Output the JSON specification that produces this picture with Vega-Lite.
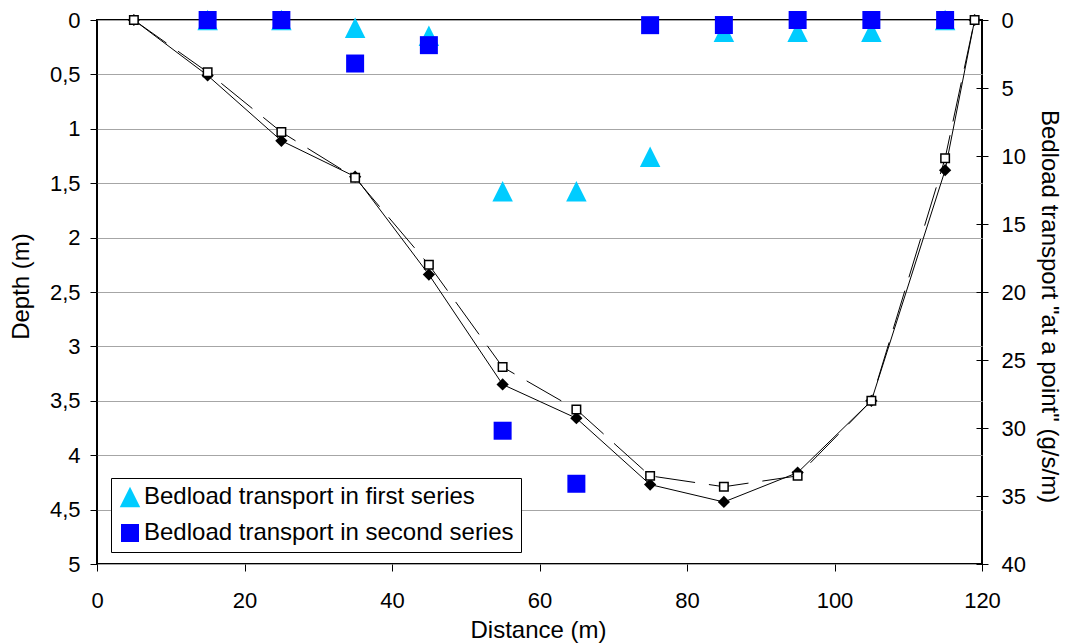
{
  "$schema": "https://vega.github.io/schema/vega-lite/v6.json",
  "width": 885,
  "height": 544,
  "autosize": {"type": "none"},
  "padding": {"left": 97, "top": 20, "right": 90, "bottom": 80},
  "background": "white",
  "config": {
    "font": "Liberation Sans",
    "view": {"stroke": "black", "strokeWidth": 2},
    "axis": {
      "domain": false,
      "labelFlush": false,
      "tickColor": "black",
      "tickWidth": 1,
      "tickSize": 7,
      "labelColor": "black",
      "labelFont": "Liberation Sans",
      "labelFontSize": 22,
      "titleColor": "black",
      "titleFont": "Liberation Sans",
      "titleFontSize": 24,
      "titleFontWeight": "normal",
      "gridColor": "#a6a6a6",
      "gridWidth": 1,
      "gridOpacity": 1
    },
    "legend": {
      "strokeWidth": 1
    }
  },
  "datasets": {
    "profile": [
      {"distance": 5, "survey": "A", "depth": 0},
      {"distance": 15, "survey": "A", "depth": 0.48},
      {"distance": 25, "survey": "A", "depth": 1.03},
      {"distance": 35, "survey": "A", "depth": 1.45},
      {"distance": 45, "survey": "A", "depth": 2.25},
      {"distance": 55, "survey": "A", "depth": 3.19},
      {"distance": 65, "survey": "A", "depth": 3.58},
      {"distance": 75, "survey": "A", "depth": 4.19},
      {"distance": 85, "survey": "A", "depth": 4.29},
      {"distance": 95, "survey": "A", "depth": 4.19},
      {"distance": 105, "survey": "A", "depth": 3.5},
      {"distance": 115, "survey": "A", "depth": 1.27},
      {"distance": 119, "survey": "A", "depth": 0},
      {"distance": 5, "survey": "B", "depth": 0},
      {"distance": 15, "survey": "B", "depth": 0.51},
      {"distance": 25, "survey": "B", "depth": 1.11},
      {"distance": 35, "survey": "B", "depth": 1.44},
      {"distance": 45, "survey": "B", "depth": 2.34},
      {"distance": 55, "survey": "B", "depth": 3.35},
      {"distance": 65, "survey": "B", "depth": 3.66},
      {"distance": 75, "survey": "B", "depth": 4.27},
      {"distance": 85, "survey": "B", "depth": 4.43},
      {"distance": 95, "survey": "B", "depth": 4.16},
      {"distance": 105, "survey": "B", "depth": 3.5},
      {"distance": 115, "survey": "B", "depth": 1.38},
      {"distance": 119, "survey": "B", "depth": 0}
    ],
    "bedload": [
      {"distance": 15, "series": "Bedload transport in first series", "bedload": 0},
      {"distance": 25, "series": "Bedload transport in first series", "bedload": 0},
      {"distance": 35, "series": "Bedload transport in first series", "bedload": 0.57},
      {"distance": 45, "series": "Bedload transport in first series", "bedload": 1.15},
      {"distance": 55, "series": "Bedload transport in first series", "bedload": 12.6},
      {"distance": 65, "series": "Bedload transport in first series", "bedload": 12.6},
      {"distance": 75, "series": "Bedload transport in first series", "bedload": 10.05},
      {"distance": 85, "series": "Bedload transport in first series", "bedload": 0.86},
      {"distance": 95, "series": "Bedload transport in first series", "bedload": 0.86},
      {"distance": 105, "series": "Bedload transport in first series", "bedload": 0.86},
      {"distance": 115, "series": "Bedload transport in first series", "bedload": 0},
      {"distance": 15, "series": "Bedload transport in second series", "bedload": 0},
      {"distance": 25, "series": "Bedload transport in second series", "bedload": 0},
      {"distance": 35, "series": "Bedload transport in second series", "bedload": 3.2},
      {"distance": 45, "series": "Bedload transport in second series", "bedload": 1.85},
      {"distance": 55, "series": "Bedload transport in second series", "bedload": 30.2},
      {"distance": 65, "series": "Bedload transport in second series", "bedload": 34.1},
      {"distance": 75, "series": "Bedload transport in second series", "bedload": 0.38},
      {"distance": 85, "series": "Bedload transport in second series", "bedload": 0.37},
      {"distance": 95, "series": "Bedload transport in second series", "bedload": 0},
      {"distance": 105, "series": "Bedload transport in second series", "bedload": 0},
      {"distance": 115, "series": "Bedload transport in second series", "bedload": 0}
    ]
  },
  "layer": [
    {
      "data": {"name": "profile"},
      "encoding": {
        "x": {
          "field": "distance",
          "type": "quantitative",
          "scale": {"domain": [0, 120], "nice": false, "zero": false},
          "axis": {
            "orient": "bottom",
            "values": [0, 20, 40, 60, 80, 100, 120],
            "grid": false,
            "labelPadding": 19,
            "title": "Distance (m)",
            "titleX": 441,
            "titleY": 66,
            "titleAlign": "center",
            "titleBaseline": "middle"
          }
        },
        "y": {
          "field": "depth",
          "type": "quantitative",
          "scale": {"domain": [0, 5], "reverse": true, "nice": false},
          "axis": {
            "orient": "left",
            "values": [0, 0.5, 1, 1.5, 2, 2.5, 3, 3.5, 4, 4.5, 5],
            "format": "~g",
            "labelExpr": "replace(datum.label, '.', ',')",
            "grid": true,
            "labelPadding": 10,
            "title": "Depth (m)",
            "titleAngle": -90,
            "titleX": -76,
            "titleY": 266,
            "titleAlign": "center",
            "titleBaseline": "middle"
          }
        }
      },
      "layer": [
        {
          "transform": [{"filter": "datum.survey === 'B'"}],
          "mark": {"type": "line", "stroke": "black", "strokeWidth": 1}
        },
        {
          "transform": [{"filter": "datum.survey === 'A'"}],
          "mark": {"type": "line", "stroke": "black", "strokeWidth": 1, "strokeDash": [40, 14]}
        },
        {
          "transform": [{"filter": "datum.survey === 'B'"}],
          "mark": {"type": "point", "shape": "diamond", "filled": true, "fill": "black", "stroke": null, "size": 150, "opacity": 1}
        },
        {
          "transform": [{"filter": "datum.survey === 'A'"}],
          "mark": {"type": "point", "shape": "square", "filled": true, "fill": "white", "stroke": "black", "strokeWidth": 1.5, "size": 72, "opacity": 1}
        }
      ]
    },
    {
      "data": {"name": "bedload"},
      "mark": {"type": "point", "filled": true, "opacity": 1, "strokeWidth": 0},
      "encoding": {
        "x": {"field": "distance", "type": "quantitative"},
        "y": {
          "field": "bedload",
          "type": "quantitative",
          "scale": {"domain": [0, 40], "reverse": true, "nice": false},
          "axis": {
            "orient": "right",
            "values": [0, 5, 10, 15, 20, 25, 30, 35, 40],
            "grid": false,
            "offset": -6,
            "tickSize": 12,
            "labelPadding": 13,
            "title": "Bedload transport \"at a point\" (g/s/m)",
            "titleAngle": 90,
            "titleX": 72,
            "titleY": 286,
            "titleAlign": "center",
            "titleBaseline": "middle"
          }
        },
        "color": {
          "field": "series",
          "type": "nominal",
          "scale": {
            "domain": ["Bedload transport in first series", "Bedload transport in second series"],
            "range": ["#00ccff", "#0000ff"]
          },
          "legend": {
            "title": null,
            "orient": "none",
            "legendX": 14,
            "legendY": 458,
            "padding": 7,
            "rowPadding": 12,
            "strokeColor": "black",
            "fillColor": "white",
            "labelFontSize": 24,
            "labelColor": "black",
            "labelLimit": 600,
            "labelOffset": 2,
            "symbolSize": 180,
            "symbolStrokeWidth": 0,
            "symbolOpacity": 1
          }
        },
        "shape": {
          "field": "series",
          "type": "nominal",
          "scale": {
            "domain": ["Bedload transport in first series", "Bedload transport in second series"],
            "range": ["M0,-1L1,1L-1,1Z", "square"]
          },
          "legend": {
            "title": null,
            "orient": "none",
            "legendX": 14,
            "legendY": 458,
            "padding": 7,
            "rowPadding": 12,
            "strokeColor": "black",
            "fillColor": "white",
            "labelFontSize": 24,
            "labelColor": "black",
            "labelLimit": 600,
            "labelOffset": 2,
            "symbolSize": 180,
            "symbolStrokeWidth": 0,
            "symbolOpacity": 1
          }
        },
        "size": {
          "field": "series",
          "type": "nominal",
          "scale": {
            "domain": ["Bedload transport in first series", "Bedload transport in second series"],
            "range": [420, 324]
          },
          "legend": null
        }
      }
    }
  ],
  "resolve": {"scale": {"y": "independent"}}
}
